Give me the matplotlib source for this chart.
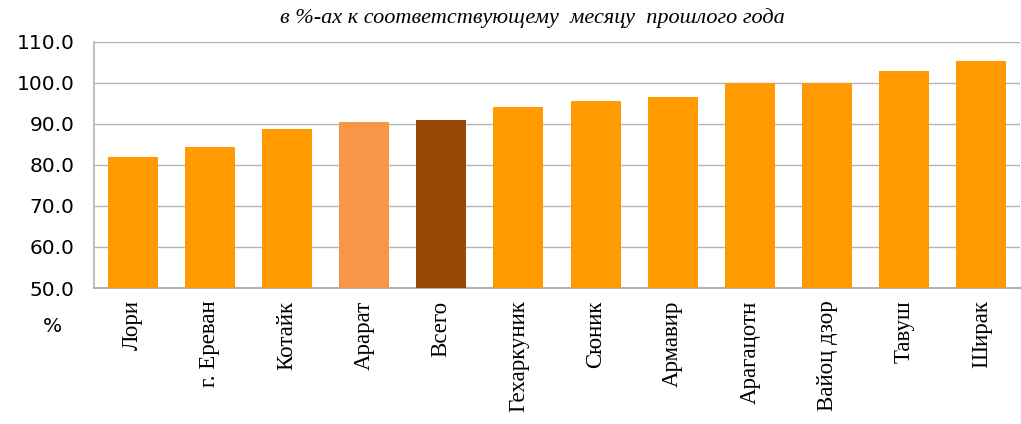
import matplotlib.pyplot as plt

# data
regions = ['Лори', 'г. Ереван', 'Котайк', 'Арарат', 'Всего', 'Гехаркуник',
           'Сюник', 'Армавир', 'Арагацотн', 'Вайоц дзор', 'Тавуш', 'Ширак']
values = [82.0, 84.4, 88.7, 90.4, 90.9, 94.1, 95.6, 96.6, 100.0, 100.0, 102.9, 105.4]
yticks = [50.0, 60.0, 70.0, 80.0, 90.0, 100.0, 110.0]

base_color = '#FF9B00'
special = {'Арарат': '#F79646', 'Всего': '#984807'}
colors = [special.get(r, base_color) for r in regions]

fig = plt.figure(figsize=(10.21, 4.24), dpi=100)
ax = fig.add_axes([94 / 1021, 1 - 288 / 424, 926 / 1021, (288 - 42) / 424])

x = list(range(len(regions)))
ax.bar(x, values, width=0.65, color=colors, zorder=3)

ax.set_ylim(50, 110)
ax.set_xlim(-0.5, len(regions) - 0.5)
ax.set_yticks(yticks)
ax.set_yticklabels(['%.1f' % v for v in yticks], fontsize=14.5)
ax.yaxis.grid(True, color='#B3B3B3', linewidth=1, zorder=0)
ax.tick_params(axis='y', length=0, pad=14)
ax.tick_params(axis='x', length=0, pad=9)

ax.set_xticks(x)
ax.set_xticklabels(regions, rotation=90, fontsize=16.5,
                   family='Liberation Serif')

for side in ['top', 'right']:
    ax.spines[side].set_visible(False)
ax.spines['left'].set_color('#B3B3B3')
ax.spines['bottom'].set_color('#B3B3B3')
ax.spines['left'].set_linewidth(1.2)
ax.spines['bottom'].set_linewidth(1.5)

fig.text(532 / 1021, 1 - 18 / 424, 'в %-ах к соответствующему  месяцу  прошлого года',
         ha='center', va='center', fontsize=16, style='italic',
         family='Liberation Serif')
fig.text(52 / 1021, 1 - 326 / 424, '%', ha='center', va='center', fontsize=14.5)

plt.savefig('out.png', dpi=100)
